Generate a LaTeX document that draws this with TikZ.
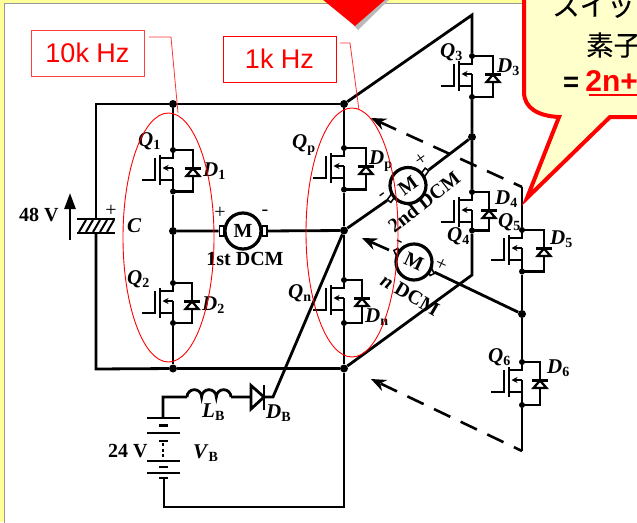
\documentclass[tikz,border=0pt]{standalone}
\usepackage{fontspec}
\setmainfont{Liberation Serif}
\setsansfont{Liberation Sans}
\newfontfamily\cjkfont[FakeBold=0.25]{Noto Sans CJK JP}
\usetikzlibrary{arrows.meta,shapes.geometric}
\definecolor{bandy}{HTML}{FFFF99}
\definecolor{calloutfill}{HTML}{FFFFCC}
\tikzset{
  wire/.style={line width=2.8pt,line join=miter},
  thinw/.style={line width=2.3pt,line join=miter},
  jdot/.style={circle,fill=black,inner sep=0pt,minimum size=#1},
  jdot/.default=8pt,
  motorc/.style={circle,draw=black,line width=3.2pt,fill=white,minimum size=36pt,inner sep=0pt,font=\fontsize{20}{20}\selectfont\bfseries},
  term/.style={rectangle,draw=black,line width=1.5pt,fill=white,minimum width=4.5pt,minimum height=10pt,inner sep=0pt},
  lab/.style={inner sep=0pt,anchor=west,font=\fontsize{20}{20}\selectfont\bfseries},
  sign/.style={inner sep=0pt,font=\fontsize{20}{20}\selectfont},
  dcm/.style={inner sep=0pt,font=\fontsize{20}{20}\selectfont\bfseries},
  hzbox/.style={draw=red!75,line width=1pt,minimum width=113pt,minimum height=46pt,inner sep=0pt,text=red,font=\sffamily\fontsize{27}{27}\selectfont},
  leader/.style={draw=red!80,line width=.8pt},
  freq/.style={draw=red,line width=.9pt},
  dasharrow/.style={line width=2.6pt,dash pattern=on 18pt off 11.5pt,dash phase=9pt,-{Stealth[length=15pt,width=12pt]}},
  solidarrow/.style={line width=2.6pt,-{Stealth[length=15pt,width=12pt]}},
  jp/.style={inner sep=0pt,anchor=west,font=\cjkfont\fontsize{27.5}{30}\selectfont}
}
\newcommand{\QD}[2]{\textit{\fontsize{21}{21}\selectfont #1}\raisebox{-3.5pt}{\fontsize{14}{14}\selectfont #2}}
% x of leg, y of drain, height, x offset of the diode, name
\newcommand{\mosfet}[5]{%
  \begin{scope}[shift={(#1,#2)}]
    \draw[thinw] (0,0) -- (0,8) -- (-13,8);
    \draw[thinw] (-13,30) -- (0,30);
    \draw[thinw,-{Stealth[length=6pt,width=6pt]}] (0,18) -- (-10.5,18);
    \draw[thinw] (0,18) -- (0,#3);
    \draw[line width=2.6pt] (-13,5) -- (-13,35);
    \draw[line width=2.6pt] (-18,8) -- (-18,30) -- (-31,30);
    \draw[thinw] (0,0) -- (#4,0) -- (#4,#3) -- (0,#3);
    \draw[thinw,fill=white] (#4,18.5) -- (#4-6.5,26) -- (#4+6.5,26) -- cycle;
    \draw[thinw] (#4-8,18.5) -- (#4+8,18.5);
  \end{scope}}
\begin{document}
\begin{tikzpicture}[x=1pt,y=-1pt]
\useasboundingbox (0,0) rectangle (637,522);
\clip (0,0) rectangle (637,522);
% slide background
\fill[bandy] (0,0) rectangle (637,522);
\fill[white] (4.5,3.5) rectangle (640,525);
\draw[gray!80,line width=.8pt] (4.5,525) -- (4.5,3.5) -- (640,3.5);
% red arrow head at the top
\fill[gray!55] (326,-4) -- (358,30) -- (393,-4) -- cycle;
\fill[red] (322,-1) -- (355,26) -- (386,-1) -- cycle;

% junctions
\node[jdot] (t1) at (173,104) {};
\node[jdot] (tp) at (344,104) {};
\node[jdot] (b1) at (173,368.5) {};
\node[jdot] (bp) at (344,368.5) {};
\node[jdot] (m1) at (173,231) {};
\node[jdot] (mp) at (344,230.5) {};
\node[jdot=6pt] (q1d) at (173,150) {};
\node[jdot=6pt] (q1s) at (173,191.5) {};
\node[jdot=6pt] (q2d) at (173,283) {};
\node[jdot=6pt] (q2s) at (173,323) {};
\node[jdot=6pt] (qpd) at (344,148) {};
\node[jdot=6pt] (qps) at (344,189.5) {};
\node[jdot=6pt] (qnd) at (344,280) {};
\node[jdot=6pt] (qns) at (344,323) {};
\node[jdot=6pt] (q3d) at (472,56) {};
\node[jdot=6pt] (q3s) at (472,97) {};
\node[jdot] (m2) at (472,137) {};
\node[jdot=6pt] (q4d) at (472,192) {};
\node[jdot=6pt] (q4s) at (472,230.5) {};
\node[jdot=6pt] (q5d) at (522,230) {};
\node[jdot=6pt] (q5s) at (522,271.5) {};
\node[jdot] (m3) at (522,314) {};
\node[jdot=6pt] (q6d) at (522,362) {};
\node[jdot=6pt] (q6s) at (522,405) {};
\coordinate (lt) at (96,104);
\coordinate (lb) at (96,369);
\coordinate (captop) at (96,219);
\coordinate (capbot) at (96,233);
\coordinate (t3) at (472,15);
\coordinate (e3) at (472,275);
\coordinate (t5) at (522,187);
\coordinate (e6) at (522,451);
\coordinate (vbtop) at (163,418);
\coordinate (vbc) at (163,397);
\coordinate (vbot) at (164,478);
\coordinate (vbc2) at (164,507);
\coordinate (pc) at (344,507);
\coordinate (la) at (187,397);
\coordinate (lc) at (231,397);
\coordinate (da) at (251,397);
\coordinate (dc) at (264,397);
\coordinate (dbc) at (273,397);

% wiring
\draw[wire] (captop) -- (lt) -- (t1) -- (tp);
\draw[wire] (capbot) -- (lb) -- (b1) -- (bp);
\draw[wire] (t1) -- (q1d) (q1s) -- (m1) -- (q2d) (q2s) -- (b1);
\draw[wire] (tp) -- (qpd) (qps) -- (mp) -- (qnd) (qns) -- (bp) -- (pc) -- (vbc2) -- (vbot);
\draw[wire] (tp) -- (t3) -- (q3d) (q3s) -- (m2) -- (q4d) (q4s) -- (e3) -- (bp);
\draw[wire] (t5) -- (q5d) (q5s) -- (m3) -- (q6d) (q6s) -- (e6);
\draw[wire] (vbtop) -- (vbc) -- (la) (lc) -- (da) (dc) -- (dbc) -- (mp);

% switches
\mosfet{173}{150}{41.5}{20}{Q1}
\mosfet{173}{283}{40}{19}{Q2}
\mosfet{344}{148}{41.5}{22}{Qp}
\mosfet{344}{280}{43}{18}{Qn}
\mosfet{472}{56}{41}{21}{Q3}
\mosfet{472}{192}{38.5}{17}{Q4}
\mosfet{522}{230}{41.5}{22}{Q5}
\mosfet{522}{362}{43}{18}{Q6}

% capacitor
\draw[wire] (77,219) -- (115,219) (77,233) -- (115,233);
\foreach \hx in {79,86,93,100,107} \draw[line width=2pt] (\hx,232) -- (\hx+7,220);
\node[sign] (capplus) at (111,210.5) {+};
\draw[line width=2.5pt,-{Triangle[length=16pt,width=11pt]}] (70,240) -- (70,193);

% inductor
\draw[wire] (la) arc[start angle=180,end angle=360,radius=7.33] arc[start angle=180,end angle=360,radius=7.33] arc[start angle=180,end angle=360,radius=7.33];
% series diode
\draw[wire,fill=white,line join=miter] (251,385.5) -- (251,409) -- (264,397) -- cycle;
\draw[wire] (264,385) -- (264,410);

% battery
\draw[wire] (147,418) -- (180,418) (147,433) -- (180,433) (147,461) -- (180,461) (147,473) -- (180,473);
\draw[wire] (159,425.5) -- (168,425.5) (159,441) -- (168,441) (159,467) -- (168,467) (159,478) -- (168,478);
\draw[line width=2.2pt,dash pattern=on 3pt off 2.5pt] (163,443) -- (163,460);

% motors
\node[term] (m1l) at (221.5,231) {};
\node[term] (m1r) at (264.5,231) {};
\draw[wire] (m1) -- (m1l) (m1r) -- (mp);
\node[motorc] (mot1) at (243,231) {M};
\node[term,rotate=-36] (m2l) at (392,197) {};
\node[term,rotate=-36] (m2r) at (424,173.5) {};
\draw[wire] (mp) -- (m2l) (m2r) -- (m2);
\node[motorc,rotate=36] (mot2) at (408,185.5) {M};
\node[term,rotate=25] (m3r) at (430,270) {};
\node[term,rotate=25] (m3l) at (398,254) {};
\draw[wire] (m3r) -- (m3);
\node[motorc,rotate=-25] (mot3) at (414,262) {M};

% direction arrows
\coordinate (ua) at (371,118);
\coordinate (ma) at (389,250);
\coordinate (mb) at (362,238);
\coordinate (la2) at (371,379);
\draw[dasharrow] (t5) -- (ua);
\draw[dasharrow] (e6) -- (la2);
\draw[solidarrow] (ma) -- (mb);

% signs
\node[sign] (p1) at (220,213) {+};
\node[sign] (n1) at (265,213) {-};
\node[sign,rotate=36] (p2) at (421,160) {+};
\node[sign,rotate=36] (n2) at (383,196) {-};
\node[sign,rotate=-25] (p3) at (441,265) {+};
\node[sign,rotate=-25] (n3) at (398.5,243) {-};

% labels
\node[lab] (l48) at (19,215) {48 V};
\node[lab] (lC) at (127,226) {\fontsize{21}{21}\selectfont\textit{C}};
\node[lab] (lq1) at (138,141) {\QD{Q}{1}};
\node[lab] (ld1) at (203,171) {\QD{D}{1}};
\node[lab] (lq2) at (127,279) {\QD{Q}{2}};
\node[lab] (ld2) at (202,305) {\QD{D}{2}};
\node[lab] (lqp) at (292,145) {\QD{Q}{p}};
\node[lab] (ldp) at (369,161) {\QD{D}{p}};
\node[lab] (lqn) at (288,293) {\QD{Q}{n}};
\node[lab] (ldn) at (365,317) {\QD{D}{n}};
\node[lab] (lq3) at (440,52) {\QD{Q}{3}};
\node[lab] (ld3) at (497,67) {\QD{D}{3}};
\node[lab] (ld4) at (495,199) {\QD{D}{4}};
\node[lab] (lq4) at (447,236) {\QD{Q}{4}};
\node[lab] (lq5) at (498,222) {\QD{Q}{5}};
\node[lab] (ld5) at (550,239) {\QD{D}{5}};
\node[lab] (lq6) at (488,357) {\QD{Q}{6}};
\node[lab] (ld6) at (547,368) {\QD{D}{6}};
\node[lab] (llb) at (202,412) {\QD{L}{B}};
\node[lab] (ldb) at (266,413) {\QD{D}{B}};
\node[lab] (lvb) at (193,453) {\QD{V}{B}};
\node[lab] (l24) at (108,451) {24 V};
\node[dcm] (d1) at (245,259) {1st DCM};
\node[dcm,rotate=38] (d2) at (424,202) {2nd DCM};
\node[dcm,rotate=-30] (d3) at (410,295) {\textit{n} DCM};

% frequency annotations
\node[hzbox] (hz10) at (87.5,53) {10k Hz};
\node[hzbox,draw=red] (hz1) at (279.5,59) {1k Hz};
\draw[leader] (149,37) -- (171,37) -- (178,113);
\draw[leader] (340,43) -- (350,43) -- (359,110);
\draw[freq] (168.5,237.5) ellipse[x radius=45.5,y radius=124.5];
\draw[freq] (352,232.5) ellipse[x radius=46,y radius=124.5];

% callout
\draw[red,line width=4pt,fill=calloutfill,line join=miter] (524,-10) -- (524,92) .. controls (524,108) and (538,116) .. (559,117) -- (527,198) -- (610,117) -- (650,117) -- (650,-10) -- cycle;
\node[jp] (c1) at (552,6) {スイッチ};
\node[jp] (c2) at (586,45) {素子};
\node[jp] (c3) at (563,81) {{\sffamily\bfseries =} {\textcolor{red}{\sffamily\bfseries\fontsize{30}{30}\selectfont 2n+}}};
\draw[red,line width=2.2pt] (589,95) -- (640,95);
\end{tikzpicture}
\end{document}
